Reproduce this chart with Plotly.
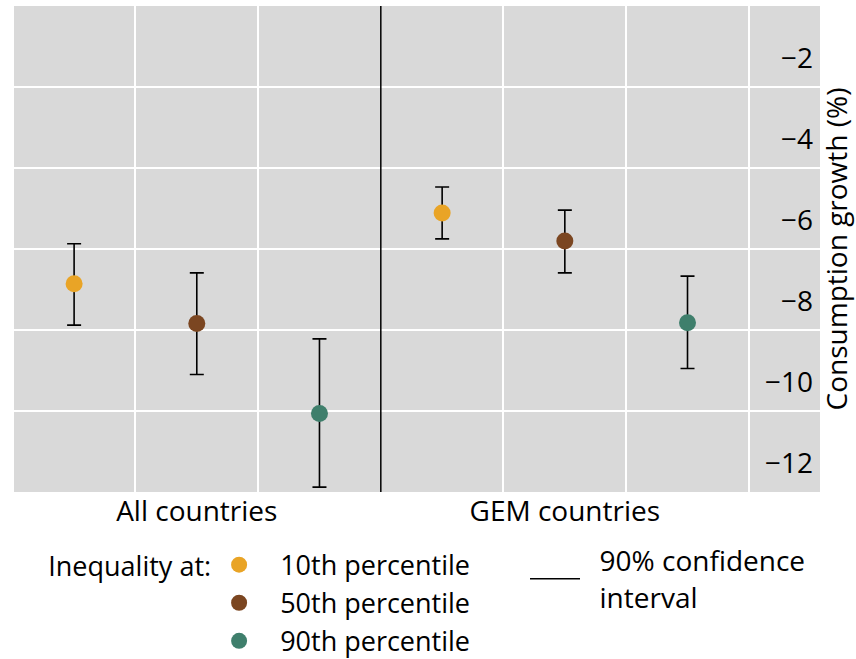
import plotly.graph_objects as go

# ---- data ----
groups = ["All countries", "GEM countries"]
series_names = ["10th percentile", "50th percentile", "90th percentile"]
series_colors = ["#E9A426", "#7B4621", "#3F7F6C"]
ci_name = "90% confidence<br>interval"
legend_title = "Inequality at:"

est_p10 = [-6.86, -5.11]
est_p50 = [-7.84, -5.80]
est_p90 = [-10.06, -7.82]

upper_p10 = [-5.87, -4.47]
upper_p50 = [-6.59, -5.04]
upper_p90 = [-8.22, -6.67]

lower_p10 = [-7.88, -5.75]
lower_p50 = [-9.10, -6.59]
lower_p90 = [-11.88, -8.95]

y_tick_vals = [-12, -10, -8, -6, -4, -2]
y_tick_labels = ["\u221212", "\u221210", "\u22128", "\u22126", "\u22124", "\u22122"]

FONT = "Open Sans"
FS = 28
LFS = 27
NB = "\u00a0"

estimates = [est_p10, est_p50, est_p90]
uppers = [upper_p10, upper_p50, upper_p90]
lowers = [lower_p10, lower_p50, lower_p90]

n_series = len(series_names)
slot = n_series  # slots per group

fig = go.Figure()
for i, name in enumerate(series_names):
    xs = [g * slot + i for g in range(len(groups))]
    est = estimates[i]
    fig.add_trace(go.Scatter(
        x=xs, y=est, mode="markers", name=NB * 3 + name,
        marker=dict(color=series_colors[i], size=17),
        error_y=dict(type="data", symmetric=False,
                     array=[u - e for u, e in zip(uppers[i], est)],
                     arrayminus=[e - l for e, l in zip(est, lowers[i])],
                     color="black", thickness=1.6, width=7),
        legend="legend",
    ))

# legend-only entry for CI line
fig.add_trace(go.Scatter(
    x=[None], y=[None], mode="lines",
    name="<br>".join(NB * 2 + part for part in ci_name.split("<br>")),
    line=dict(color="black", width=1.5), legend="legend2",
))

center_ticks = [g * slot + (n_series - 1) / 2 for g in range(len(groups))]
minor_grid = [g * slot + i + 0.5 for g in range(len(groups)) for i in range(n_series)]
sep_pos = [g * slot - 0.5 for g in range(1, len(groups))]

fig.update_layout(
    width=856, height=659,
    margin=dict(l=14, r=36, t=6, b=167, autoexpand=False),
    paper_bgcolor="white",
    plot_bgcolor="#D9D9D9",
    font=dict(family=FONT, size=FS, color="black"),
    showlegend=True,
    legend=dict(
        title=dict(text=legend_title, side="left", font=dict(size=LFS, color="black")),
        orientation="v", x=0.04, y=-0.1, xanchor="left", yanchor="top",
        bgcolor="rgba(0,0,0,0)", font=dict(size=LFS, color="black"), tracegroupgap=0,
        itemwidth=30,
    ),
    legend2=dict(
        orientation="v", x=0.634, y=-0.09, xanchor="left", yanchor="top",
        bgcolor="rgba(0,0,0,0)", font=dict(size=FS, color="black"),
        itemwidth=50,
    ),
)

fig.update_xaxes(
    range=[-0.49, 6.08],
    tickmode="array", tickvals=center_ticks, ticktext=groups,
    showgrid=False, zeroline=False, ticks="", showline=False,
    minor=dict(tickvals=[v for v in minor_grid if v not in sep_pos], showgrid=True,
               gridcolor="white", gridwidth=2, ticks=""),
    tickfont=dict(size=FS, color="black"),
)

fig.update_yaxes(
    range=[-12, 0], side="right",
    tickmode="array", tickvals=y_tick_vals, ticktext=y_tick_labels,
    ticklabelposition="inside", ticklabelshift=-29, ticklabelstandoff=4,
    showgrid=True, gridcolor="white", gridwidth=2, zeroline=False, ticks="",
    title=dict(text="Consumption growth (%)", font=dict(size=FS, color="black"), standoff=15),
    tickfont=dict(size=FS, color="black"),
)

for s in sep_pos:
    fig.add_shape(type="line", xref="x", yref="paper", x0=s, x1=s, y0=0, y1=1,
                  line=dict(color="black", width=1.5))

fig.write_html("out.html")
